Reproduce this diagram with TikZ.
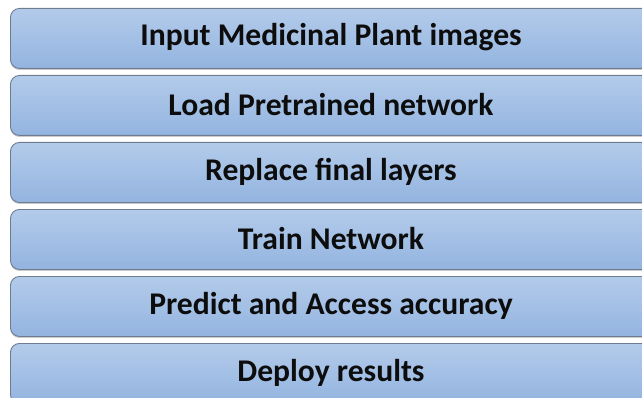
\documentclass[tikz,border=0pt]{standalone}
\usepackage{fontspec}
\setmainfont{Carlito}
\usetikzlibrary{shadows}
\definecolor{boxtop}{HTML}{B3CBEA}
\definecolor{boxbot}{HTML}{93B4E0}
\definecolor{boxline}{HTML}{6E7C92}
\tikzset{
  stepbox/.style={draw=boxline, line width=0.9pt, rounded corners=9pt,
    top color=boxtop, bottom color=boxbot, minimum width=642pt, minimum height=60pt,
    inner sep=0pt, anchor=north west,
    drop shadow={shadow xshift=0pt, shadow yshift=-1.5pt, opacity=0.35, fill=black!60}},
  steptext/.style={font=\bfseries\fontsize{31.6}{31.6}\selectfont, text=black!95, anchor=center}
}
\begin{document}
\begin{tikzpicture}[x=1pt,y=1pt]
\useasboundingbox (0,0) rectangle (642,-398);
\begin{scope}
\clip (0,0) rectangle (642,-398);
\node[stepbox] (b1) at (10,-8) {};
\node[stepbox] (b2) at (10,-75) {};
\node[stepbox] (b3) at (10,-142) {};
\node[stepbox] (b4) at (10,-209) {};
\node[stepbox] (b5) at (10,-276) {};
\node[stepbox] (b6) at (10,-343) {};
\end{scope}
\node[steptext] (t1) at (331,-37.5) {Input Medicinal Plant images};
\node[steptext] (t2) at (331,-104.5) {Load Pretrained network};
\node[steptext] (t3) at (331,-171.5) {Replace final layers};
\node[steptext] (t4) at (331,-238.5) {Train Network};
\node[steptext] (t5) at (331,-305.5) {Predict and Access accuracy};
\node[steptext] (t6) at (331,-372.5) {Deploy results};
\end{tikzpicture}
\end{document}
